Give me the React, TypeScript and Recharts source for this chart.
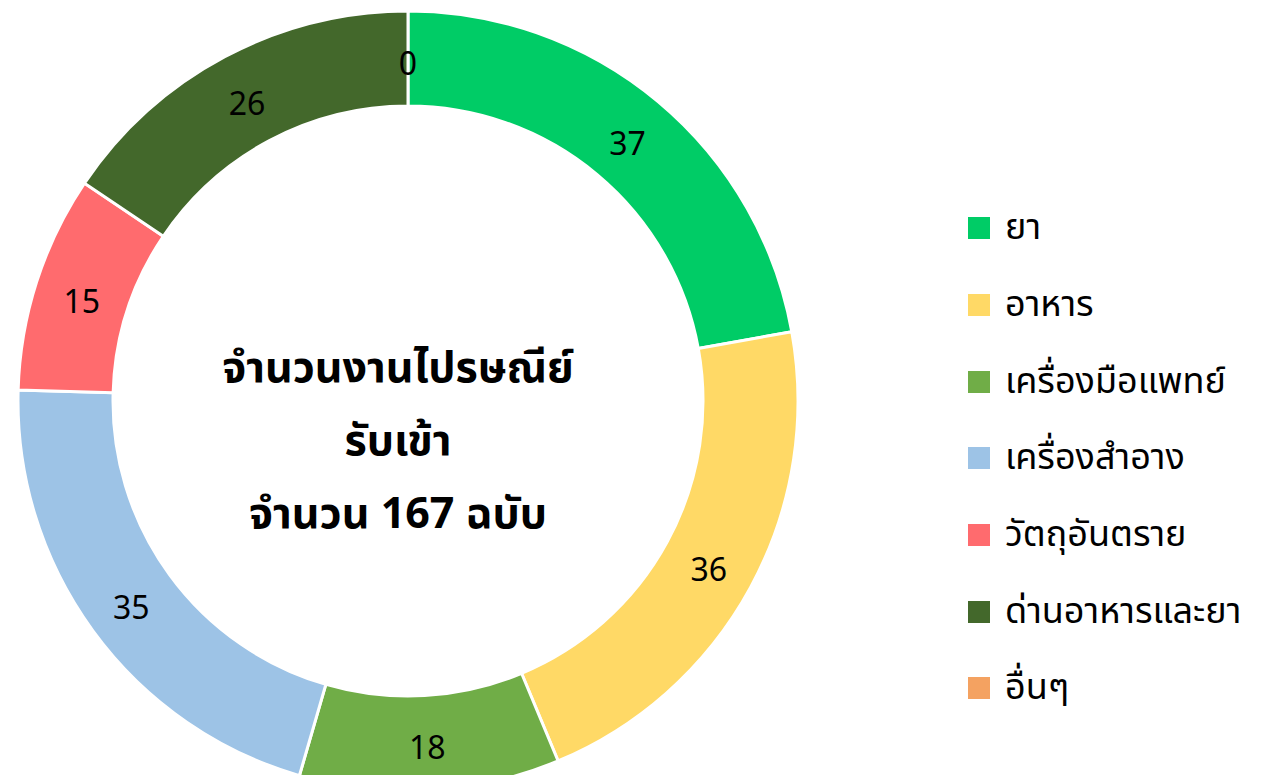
import React from 'react';
import { PieChart, Pie, Cell, Legend } from 'recharts';

const categories = ['ยา', 'อาหาร', 'เครื่องมือแพทย์', 'เครื่องสำอาง', 'วัตถุอันตราย', 'ด่านอาหารและยา', 'อื่นๆ'];
const counts = [37, 36, 18, 35, 15, 26, 0];
const colors = ['#00CC66', '#FFD966', '#70AD47', '#9DC3E6', '#FF6B6E', '#43682B', '#F4A261'];
const centerLines = ['จำนวนงานไปรษณีย์', 'รับเข้า', 'จำนวน 167 ฉบับ'];

const data = categories.map((name, i) => ({ name, value: counts[i] }));

const FONT = '"Noto Sans", "Noto Sans Thai", Tahoma, sans-serif';

const RADIAN = Math.PI / 180;

const renderLabel = (props: any) => {
  const { cx, cy, midAngle, innerRadius, outerRadius, value } = props;
  const r = (innerRadius + outerRadius) / 2;
  const x = cx + r * Math.cos(-midAngle * RADIAN);
  const y = cy + r * Math.sin(-midAngle * RADIAN);
  return (
    <text x={x} y={y + 4} textAnchor="middle" dominantBaseline="central" fill="#000" fontSize={32} fontFamily={FONT}>
      {value}
    </text>
  );
};

const LegendContent = () => (
  <div style={{ fontFamily: FONT }}>
    {data.map((d, i) => (
      <div key={d.name} style={{ display: 'flex', alignItems: 'center', height: 76.7 }}>
        <span style={{ width: 22, height: 22, background: colors[i], display: 'inline-block', marginRight: 15, flexShrink: 0 }} />
        <span style={{ fontSize: 36, color: '#000', whiteSpace: 'nowrap' }}>{d.name}</span>
      </div>
    ))}
  </div>
);

export default function App() {
  return (
    <div style={{ margin: -8, width: 1272, height: 783, background: '#fff', overflow: 'hidden' }}>
      <PieChart width={1272} height={783}>
        <Pie
          data={data}
          dataKey="value"
          nameKey="name"
          cx={403}
          cy={396}
          innerRadius={295}
          outerRadius={390}
          startAngle={90}
          endAngle={-270}
          stroke="#fff"
          strokeWidth={3}
          label={renderLabel}
          labelLine={false}
          isAnimationActive={false}
        >
          {data.map((d, i) => (
            <Cell key={d.name} fill={colors[i]} />
          ))}
        </Pie>
        <Legend
          layout="vertical"
          align="right"
          verticalAlign="top"
          content={<LegendContent />}
          wrapperStyle={{ left: 968, top: 190, width: 304 }}
        />
        {centerLines.map((t, i) => (
          <text
            key={t}
            x={398}
            y={365 + i * 73}
            textAnchor="middle"
            dominantBaseline="central"
            fontSize={43}
            fontWeight="bold"
            fontFamily={FONT}
            fill="#000"
          >
            {t}
          </text>
        ))}
      </PieChart>
    </div>
  );
}
